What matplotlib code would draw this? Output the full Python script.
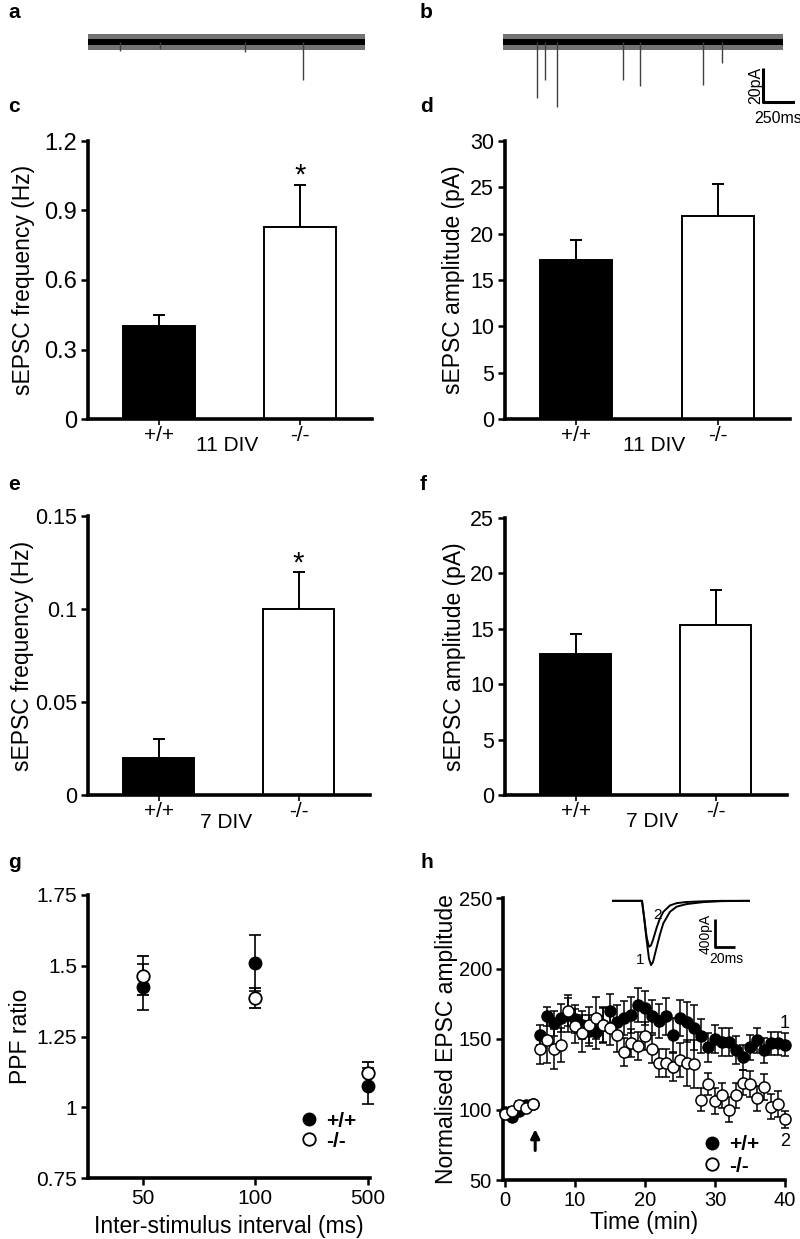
import numpy as np
import matplotlib
matplotlib.use("Agg")
import matplotlib.pyplot as plt
from matplotlib.lines import Line2D

plt.rcParams['font.family'] = ['Liberation Sans', 'DejaVu Sans']

# ---------------- data ----------------
genotypes = ['+/+', '-/-']

# c: 11 DIV frequency
freq11 = [0.40, 0.83]
freq11_err = [0.05, 0.18]
# d: 11 DIV amplitude
amp11 = [17.2, 21.9]
amp11_err = [2.1, 3.5]
# e: 7 DIV frequency
freq7 = [0.02, 0.10]
freq7_err = [0.01, 0.02]
# f: 7 DIV amplitude
amp7 = [12.7, 15.3]
amp7_err = [1.8, 3.2]

# g: paired pulse facilitation
isi_labels = ['50', '100', '500']
ppf_wt = [1.425, 1.51, 1.075]
ppf_wt_err = [0.08, 0.10, 0.065]
ppf_ko = [1.465, 1.385, 1.12]
ppf_ko_err = [0.07, 0.035, 0.04]

# h: LTP time course
time_min = list(range(0, 41))
ltp_wt = [98, 95, 99, 103, 104,
          153, 166, 161, 165, 167, 164, 160, 156, 155, 160,
          170, 162, 165, 167, 174, 172, 166, 163, 166, 153,
          165, 162, 158, 152, 144, 150, 148, 148, 142, 137,
          144, 149, 142, 147, 147, 146]
ltp_wt_err = [2, 2, 2, 2, 2,
              7, 7, 9, 10, 12, 10, 10, 11, 12, 12,
              12, 12, 12, 13, 12, 12, 12, 12, 13, 12,
              13, 14, 16, 12, 10, 10, 10, 10, 10, 9,
              9, 9, 9, 8, 8, 8]
ltp_ko = [97, 99, 103, 101, 104,
          143, 149, 143, 146, 170, 159, 154, 160, 165, 160,
          158, 153, 141, 147, 145, 152, 143, 133, 133, 130,
          135, 133, 132, 107, 118, 106, 110, 100, 110, 119,
          118, 108, 116, 102, 104, 93]
ltp_ko_err = [3, 3, 3, 3, 3,
              11, 16, 14, 12, 11, 12, 13, 13, 15, 13,
              12, 12, 10, 10, 10, 10, 10, 10, 10, 10,
              12, 16, 17, 8, 8, 9, 9, 9, 9, 9,
              9, 9, 9, 9, 9, 6]

# sample traces (a, b): duration (ms), noise half-band (pA), events (time ms, amplitude pA)
trace_len_a = 2164
trace_len_b = 2187
noise_band = 2.0
noise_band_outer = 4.6
events_a_t = [250, 560, 1226, 1680]
events_a_amp = [5, 4, 6, 22]
events_b_t = [266, 328, 422, 937, 1070, 1562, 1711]
events_b_amp = [33, 22, 38, 22, 26, 25, 12]

# inset EPSC waveform (ms, normalised) and peak amplitudes (pA)
epsc_t = [0, 30, 32, 34.7, 37, 39, 41, 44.7, 48, 51.3, 58, 64.7, 74.7, 91.3, 110, 137]
epsc1_shape = [0, 0, 0.25, 0.62, 0.9, 1.0, 0.95, 0.72, 0.52, 0.35, 0.17, 0.09, 0.05, 0.02, 0.005, 0]
epsc2_shape = [0, 0, 0.33, 0.80, 1.0, 0.97, 0.85, 0.58, 0.38, 0.24, 0.10, 0.05, 0.025, 0.01, 0.0, 0]
epsc_amp = [910, 650]

# ---------------- figure ----------------
W, H = 800, 1239
fig = plt.figure(figsize=(8, 12.39), dpi=100)


def rect(l, t, r, b):
    return [l / W, 1 - b / H, (r - l) / W, (b - t) / H]


LAB_FS = 16.5
SPINE_LW = 2.6


def style_axes(ax, tick_fs):
    for s in ['top', 'right']:
        ax.spines[s].set_visible(False)
    for s in ['left', 'bottom']:
        ax.spines[s].set_linewidth(SPINE_LW)
    ax.tick_params(direction='out', length=5, width=1.8, labelsize=tick_fs, pad=3)


def panel_label(x, y, s):
    fig.text(x / W, 1 - y / H, s, fontsize=15, fontweight='bold', ha='left', va='center')


def bar_panel(ax, vals, errs, ylim, yticks, yticklabels, ylabel, div, star_y=None,
              ylab_x=-0.18, div_x=0.5, tick_fs=15):
    x = np.arange(len(vals))
    ax.bar(x, vals, width=0.51, color=['black', 'white'], edgecolor='black', linewidth=1.4, zorder=2)
    ax.errorbar(x, vals, yerr=[np.zeros(len(vals)), errs], fmt='none', ecolor='black',
                elinewidth=1.4, capsize=4.5, capthick=1.4, zorder=1)
    ax.set_xlim(-0.505, 1.51)
    ax.set_ylim(*ylim)
    ax.set_yticks(yticks)
    ax.set_yticklabels(yticklabels)
    ax.set_xticks(x)
    ax.set_xticklabels(genotypes)
    style_axes(ax, tick_fs)
    ax.tick_params(axis='x', length=4, width=1.2, pad=1, labelsize=15)
    ax.set_ylabel(ylabel, fontsize=LAB_FS)
    ax.yaxis.set_label_coords(ylab_x, 0.5)
    ax.text(div_x, -0.097, div, transform=ax.transAxes, ha='center', va='center', fontsize=15)
    if star_y is not None:
        ax.text(1, star_y, '*', ha='center', va='center', fontsize=21)


# ---- a / b traces ----
def trace_axes(l, r, total_ms):
    ax = fig.add_axes(rect(l, 25, r, 124))
    ax.set_xlim(0, total_ms)
    ax.set_ylim(-48, 10)
    ax.axis('off')
    return ax


def draw_trace(ax, length, ev_t, ev_amp):
    tt = np.array([0, length])
    ax.fill_between(tt, -noise_band_outer, noise_band_outer, color='0.45', lw=0)
    ax.fill_between(tt, -noise_band, noise_band, color='black', lw=0)
    ax.vlines(ev_t, [-a for a in ev_amp], 0, color='0.25', lw=1.0)


ax_a = trace_axes(88, 365, trace_len_a)
draw_trace(ax_a, trace_len_a, events_a_t, events_a_amp)
ax_b = trace_axes(503, 795, 2281)
draw_trace(ax_b, trace_len_b, events_b_t, events_b_amp)
# scale bar
ax_b.plot([2031, 2031, 2281], [-15.3, -35.3, -35.3], color='black', lw=2.2, solid_capstyle='butt')
ax_b.text(1975, -25.3, '20pA', rotation=90, ha='center', va='center', fontsize=11.5)
ax_b.text(2150, -44.5, '250ms', ha='center', va='center', fontsize=11.5)

panel_label(8, 13, 'a')
panel_label(420, 13, 'b')
panel_label(8, 107, 'c')
panel_label(420, 107, 'd')
panel_label(8, 484, 'e')
panel_label(420, 484, 'f')
panel_label(8, 862, 'g')
panel_label(420, 862, 'h')

# ---- c ----
ax_c = fig.add_axes(rect(88, 141, 372, 419))
bar_panel(ax_c, freq11, freq11_err, (0, 1.2), [0, 0.3, 0.6, 0.9, 1.2],
          ['0', '0.3', '0.6', '0.9', '1.2'], 'sEPSC frequency (Hz)', '11 DIV',
          star_y=1.05, ylab_x=-0.185, div_x=0.49, tick_fs=17)

# ---- d ----
ax_d = fig.add_axes(rect(505, 141, 790, 419))
bar_panel(ax_d, amp11, amp11_err, (0, 30), [0, 5, 10, 15, 20, 25, 30],
          ['0', '5', '10', '15', '20', '25', '30'], 'sEPSC amplitude (pA)', '11 DIV',
          ylab_x=-0.14, div_x=0.523, tick_fs=15.5)

# ---- e ----
ax_e = fig.add_axes(rect(88, 516, 370, 795))
bar_panel(ax_e, freq7, freq7_err, (0, 0.15), [0, 0.05, 0.1, 0.15],
          ['0', '0.05', '0.1', '0.15'], 'sEPSC frequency (Hz)', '7 DIV',
          star_y=0.1245, ylab_x=-0.19, div_x=0.49, tick_fs=15.5)

# ---- f ----
ax_f = fig.add_axes(rect(505, 518, 787, 795))
bar_panel(ax_f, amp7, amp7_err, (0, 25), [0, 5, 10, 15, 20, 25],
          ['0', '5', '10', '15', '20', '25'], 'sEPSC amplitude (pA)', '7 DIV',
          ylab_x=-0.14, div_x=0.523, tick_fs=15.5)

# ---- g ----
ax_g = fig.add_axes(rect(88, 895, 370, 1178))
xg = np.arange(len(isi_labels))
ax_g.errorbar(xg, ppf_wt, yerr=ppf_wt_err, fmt='o', color='black', mfc='black', mec='black',
              ms=9, elinewidth=1.2, capsize=4.5, capthick=1.2, clip_on=False, zorder=3)
ax_g.errorbar(xg, ppf_ko, yerr=ppf_ko_err, fmt='o', color='black', mfc='white', mec='black',
              ms=9, mew=1.3, elinewidth=1.2, capsize=4.5, capthick=1.2, clip_on=False, zorder=4)
ax_g.set_xlim(-0.487, 2.02)
ax_g.set_ylim(0.75, 1.75)
ax_g.set_yticks([0.75, 1.0, 1.25, 1.5, 1.75])
ax_g.set_yticklabels(['0.75', '1', '1.25', '1.5', '1.75'])
ax_g.set_xticks(xg)
ax_g.set_xticklabels(isi_labels)
style_axes(ax_g, 15)
ax_g.set_ylabel('PPF ratio', fontsize=LAB_FS)
ax_g.yaxis.set_label_coords(-0.2, 0.5)
ax_g.set_xlabel('Inter-stimulus interval (ms)', fontsize=LAB_FS)
ax_g.xaxis.set_label_coords(0.5, -0.13)
h_wt = Line2D([], [], marker='o', ls='none', mfc='black', mec='black', ms=9)
h_ko = Line2D([], [], marker='o', ls='none', mfc='white', mec='black', ms=9, mew=1.3)
ax_g.legend([h_wt, h_ko], genotypes, loc='center left', bbox_to_anchor=(0.755, 0.166),
            frameon=False, handlelength=0.8, handletextpad=0.4, borderpad=0, borderaxespad=0,
            labelspacing=0.05, prop={'size': 15, 'weight': 'bold'})

# ---- h ----
ax_h = fig.add_axes(rect(503, 898, 785, 1180))
ax_h.errorbar(time_min, ltp_wt, yerr=ltp_wt_err, fmt='o', color='black', mfc='black', mec='black',
              ms=8, elinewidth=1.1, capsize=3, capthick=1.1, clip_on=False, zorder=3)
ax_h.errorbar(time_min, ltp_ko, yerr=ltp_ko_err, fmt='o', color='black', mfc='white', mec='black',
              ms=8, mew=1.1, elinewidth=1.1, capsize=3, capthick=1.1, clip_on=False, zorder=4)
ax_h.set_xlim(-0.3, 40)
ax_h.set_ylim(50, 250)
ax_h.set_xticks([0, 10, 20, 30, 40])
ax_h.set_yticks([50, 100, 150, 200, 250])
style_axes(ax_h, 14.5)
ax_h.set_ylabel('Normalised EPSC amplitude', fontsize=LAB_FS)
ax_h.yaxis.set_label_coords(-0.158, 0.5)
ax_h.set_xlabel('Time (min)', fontsize=LAB_FS)
ax_h.xaxis.set_label_coords(0.5, -0.11)
ax_h.annotate('', xy=(4.3, 88), xytext=(4.3, 69),
              arrowprops=dict(arrowstyle='-|>', lw=2.2, color='black', mutation_scale=13))
ax_h.text(40, 161, '1', ha='center', va='center', fontsize=13)
ax_h.text(40, 77, '2', ha='center', va='center', fontsize=13)
ax_h.legend([h_wt, h_ko], genotypes, loc='center left', bbox_to_anchor=(0.713, 0.087),
            frameon=False, handlelength=0.8, handletextpad=0.4, borderpad=0, borderaxespad=0,
            labelspacing=0.1, prop={'size': 15, 'weight': 'bold'})

# inset EPSCs
ax_in = fig.add_axes(rect(612, 898, 750, 968.7))
ax_in.set_xlim(0, 138)
ax_in.set_ylim(-960, 40)
ax_in.axis('off')
ax_in.plot(epsc_t, [-epsc_amp[0] * s for s in epsc1_shape], color='black', lw=1.4)
ax_in.plot(epsc_t, [-epsc_amp[1] * s for s in epsc2_shape], color='black', lw=1.4)
ax_in.plot([103, 103, 123], [-250, -650, -650], color='black', lw=2.0, solid_capstyle='butt')
ax_in.text(94, -470, '400pA', rotation=90, ha='center', va='center', fontsize=10)
ax_in.text(114, -820, '20ms', ha='center', va='center', fontsize=10)
ax_in.text(28, -830, '1', ha='center', va='center', fontsize=11)
ax_in.text(45, -200, '2', ha='center', va='center', fontsize=11)

fig.savefig('out.png', dpi=100)
